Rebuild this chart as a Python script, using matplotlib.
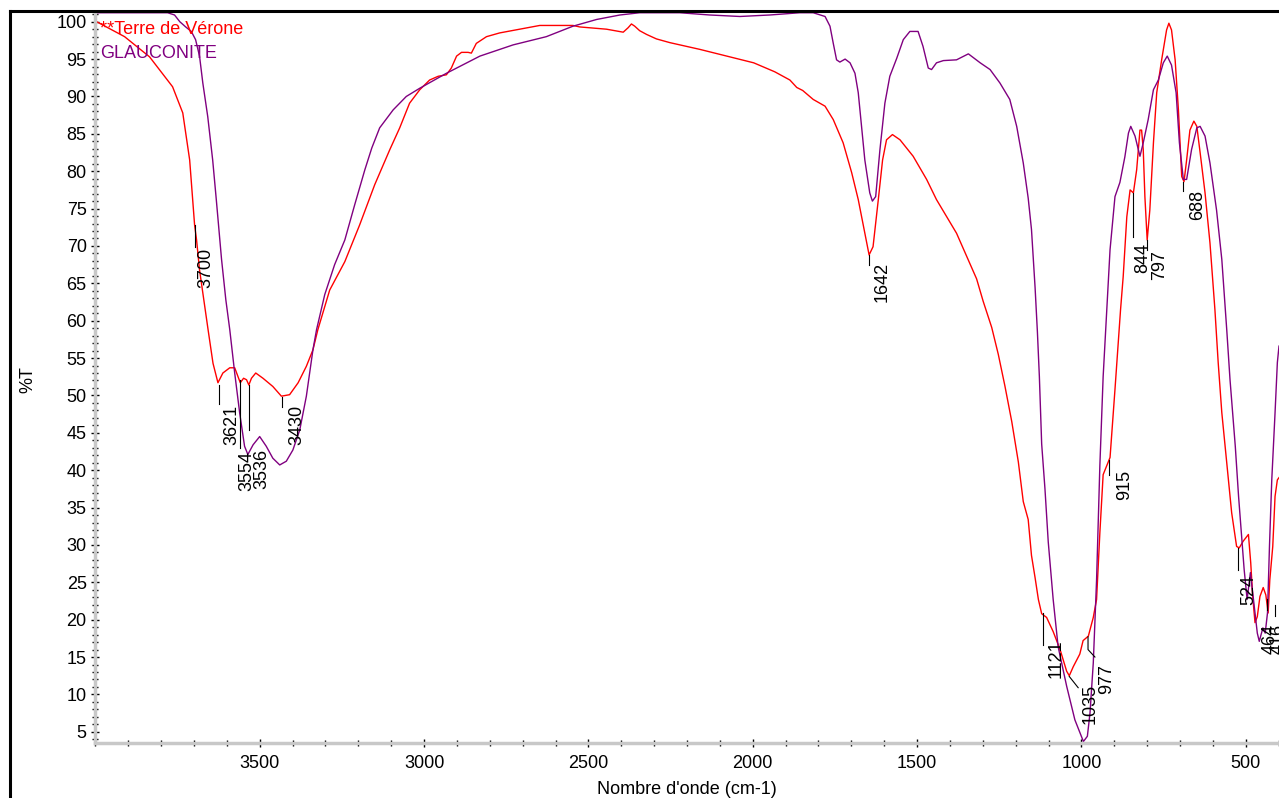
import matplotlib
matplotlib.use("Agg")
import matplotlib.pyplot as plt
from matplotlib.lines import Line2D
from matplotlib.ticker import MultipleLocator

plt.rcParams['font.family'] = ['Liberation Sans', 'DejaVu Sans']

# Terre de Verone (red) - wavenumber (cm-1) / %T
red_wn = [3996, 3911, 3835, 3765, 3734, 3713, 3704, 3698, 3692, 3683, 3670, 3657, 3642, 3627,
          3612, 3591, 3576, 3566, 3559, 3549, 3540, 3533, 3525, 3512, 3490, 3460, 3434, 3409,
          3383, 3358, 3338, 3323, 3287, 3241, 3196, 3150, 3104, 3074, 3044, 3013, 2983, 2957,
          2932, 2917, 2901, 2886, 2866, 2856, 2841, 2810, 2770, 2709, 2648, 2547, 2526, 2445,
          2394, 2379, 2369, 2359, 2344, 2323, 2293, 2252, 2222, 2161, 2070, 1997, 1933, 1887,
          1866, 1848, 1832, 1816, 1780, 1755, 1725, 1699, 1679, 1659, 1646, 1634, 1618, 1605,
          1593, 1575, 1552, 1512, 1471, 1441, 1410, 1380, 1349, 1319, 1299, 1273, 1253, 1233,
          1212, 1192, 1177, 1162, 1152, 1141, 1131, 1121, 1106, 1086, 1065, 1045, 1037, 1025,
          1005, 995, 979, 964, 954, 944, 934, 923, 913, 898, 881, 873, 862, 852, 842, 832, 822,
          817, 812, 807, 800, 792, 781, 771, 756, 741, 734, 726, 715, 705, 695, 688, 680, 670,
          658, 649, 639, 624, 609, 594, 584, 573, 558, 543, 528, 520, 508, 492, 485, 479, 472,
          465, 457, 447, 439, 432, 427, 418, 411, 404, 399]
red_t = [100.0, 98.0, 95.3, 91.3, 87.8, 81.5, 76.2, 72.8, 70.8, 66.8, 62.8, 58.8, 54.3, 51.7,
         53.0, 53.7, 53.7, 52.5, 51.7, 52.3, 52.1, 51.4, 52.3, 53.0, 52.3, 51.2, 49.9, 50.1,
         51.7, 53.9, 56.1, 58.8, 64.1, 67.9, 72.8, 78.2, 82.9, 85.8, 89.1, 90.9, 92.2, 92.7,
         92.9, 93.8, 95.4, 95.9, 95.9, 95.8, 97.1, 98.0, 98.5, 99.0, 99.5, 99.5, 99.3, 99.0,
         98.6, 99.2, 99.7, 99.4, 98.8, 98.3, 97.7, 97.2, 96.9, 96.3, 95.3, 94.5, 93.3, 92.2,
         91.2, 90.8, 90.2, 89.6, 88.7, 86.9, 83.8, 79.8, 76.2, 71.7, 68.8, 69.9, 76.2, 81.5,
         84.2, 84.9, 84.2, 82.0, 78.9, 76.2, 73.9, 71.7, 68.6, 65.6, 62.6, 59.1, 55.5, 51.3,
         46.5, 41.1, 35.8, 33.4, 28.6, 25.6, 22.7, 20.8, 20.3, 18.4, 16.0, 13.1, 12.5, 13.7,
         15.4, 17.2, 17.8, 20.3, 22.7, 31.6, 39.4, 40.6, 41.7, 50.8, 61.5, 65.9, 73.9, 77.5,
         77.1, 80.2, 85.5, 85.5, 82.9, 76.6, 70.8, 74.8, 83.8, 90.5, 94.9, 98.9, 99.8, 98.9,
         94.9, 88.2, 79.3, 78.6, 81.5, 85.5, 86.7, 86.0, 82.5, 77.1, 70.4, 61.5, 54.4, 47.7,
         41.0, 34.3, 29.8, 29.6, 30.5, 31.4, 27.6, 23.1, 19.6, 20.4, 23.1, 24.3, 23.3, 20.9,
         25.3, 29.8, 36.5, 38.7, 39.0]

# Glauconite (purple)
purple_wn = [3997, 3780, 3759, 3743, 3725, 3708, 3695, 3683, 3673, 3658, 3643, 3632, 3616, 3603,
             3591, 3576, 3561, 3546, 3536, 3520, 3500, 3480, 3460, 3439, 3419, 3399, 3378, 3358,
             3338, 3327, 3302, 3272, 3241, 3211, 3180, 3159, 3135, 3094, 3054, 3013, 2932, 2830,
             2729, 2628, 2547, 2475, 2404, 2344, 2222, 2131, 2039, 1948, 1857, 1816, 1780, 1765,
             1755, 1745, 1735, 1719, 1704, 1689, 1679, 1669, 1659, 1644, 1636, 1626, 1613, 1598,
             1583, 1562, 1542, 1522, 1497, 1482, 1466, 1456, 1441, 1420, 1380, 1344, 1308, 1278,
             1248, 1218, 1197, 1177, 1162, 1152, 1141, 1134, 1128, 1121, 1111, 1101, 1086, 1071,
             1045, 1020, 994, 982, 974, 964, 954, 944, 934, 923, 913, 898, 883, 868, 857, 850,
             837, 822, 812, 797, 781, 766, 751, 739, 726, 712, 702, 690, 680, 665, 649, 639, 624,
             609, 589, 573, 558, 548, 532, 522, 512, 505, 496, 486, 472, 465, 459, 448, 441, 434,
             428, 421, 411, 404, 399]
purple_t = [101.2, 101.2, 100.9, 100.0, 99.3, 98.7, 97.6, 95.4, 91.8, 87.3, 81.5, 76.2, 68.2, 62.8,
            58.8, 53.0, 47.7, 43.2, 42.1, 43.4, 44.5, 43.2, 41.6, 40.7, 41.2, 42.7, 45.4, 49.9,
            56.1, 58.8, 63.5, 67.5, 70.8, 75.5, 80.2, 83.1, 85.8, 88.2, 90.0, 91.1, 93.1, 95.4,
            96.9, 98.0, 99.4, 100.3, 100.9, 101.2, 101.2, 100.9, 100.7, 100.9, 101.2, 101.2, 100.7, 99.4,
            97.1, 94.9, 94.6, 95.0, 94.5, 93.1, 90.5, 86.0, 81.5, 77.1, 76.0, 76.6, 82.9, 89.1,
            92.7, 95.1, 97.6, 98.7, 98.7, 96.7, 93.8, 93.6, 94.5, 94.8, 94.9, 95.7, 94.5, 93.6,
            91.8, 89.6, 86.0, 81.1, 76.4, 72.2, 64.4, 58.5, 52.5, 43.5, 37.5, 30.4, 22.7, 16.4,
            11.1, 6.6, 3.7, 4.4, 7.5, 14.2, 25.3, 40.6, 52.5, 61.5, 69.5, 76.6, 78.5, 81.9, 85.1, 86.0,
            84.7, 82.0, 83.8, 86.9, 90.9, 92.2, 94.5, 95.4, 94.2, 90.5, 83.8, 78.9, 78.9, 82.9, 85.8,
            86.0, 84.7, 81.1, 74.8, 68.2, 58.8, 52.1, 43.2, 36.5, 30.7, 26.7, 22.7, 26.3, 20.9,
            18.2, 17.1, 18.9, 18.2, 20.9, 29.8, 38.7, 47.7, 54.4, 56.6]

peak_labels = ['3700', '3621', '3554', '3536', '3430', '1642', '1121', '1035', '977',
               '915', '844', '797', '688', '524', '464', '416']

# leader line (wn, %T points) and text anchor (wn, top %T) for each peak label
label_layout = [
    ([(3698, 72.8), (3698, 69.8)], (3664, 69.8)),
    ([(3625, 51.4), (3625, 48.8)], (3585, 48.8)),
    ([(3559, 52.1), (3559, 43.0)], (3540, 42.6)),
    ([(3533, 51.4), (3533, 45.4)], (3492, 42.8)),
    ([(3433, 49.8), (3433, 48.4)], (3387, 48.8)),
    ([(1647, 68.8), (1647, 67.5)], (1607, 67.9)),
    ([(1117, 20.9), (1117, 16.6)], (1078, 17.3)),
    ([(1037, 12.4), (1010, 10.9)], (975, 11.4)),
    ([(980, 17.7), (980, 16.0), (959, 15.0)], (922, 14.0)),
    ([(916, 41.4), (916, 39.4)], (868, 40.1)),
    ([(843, 77.1), (843, 71.2)], (813, 70.4)),
    ([(801, 70.8), (801, 69.5)], (761, 69.5)),
    ([(691, 78.6), (691, 77.3)], (648, 77.5)),
    ([(524, 29.6), (524, 26.7)], (490, 26.0)),
    ([(435, 22.7), (435, 21.3)], (427, 19.4)),
    ([(412, 22.0), (412, 20.5)], (402, 19.4)),
]

fig = plt.figure(figsize=(12.79, 7.98), dpi=100)
ax = fig.add_axes([95 / 1279, 55 / 798, 1184 / 1279, 731 / 798])

ax.plot(red_wn, red_t, color='#ff0000', lw=1.0)
ax.plot(purple_wn, purple_t, color='#800080', lw=1.0)

for text, (line_pts, (tx, ty)) in zip(peak_labels, label_layout):
    ax.plot([p[0] for p in line_pts], [p[1] for p in line_pts], color='black', lw=0.8)
    ax.text(tx, ty, text, rotation=90, ha='center', va='top', fontsize=13, color='black',
            clip_on=True)

ax.set_xlim(4001, 399)
ax.set_ylim(3.5, 101.3)

ax.set_xticks(range(500, 3501, 500))
ax.xaxis.set_minor_locator(MultipleLocator(100))
ax.set_yticks(range(5, 101, 5))
ax.yaxis.set_minor_locator(MultipleLocator(1))

for side in ['top', 'right']:
    ax.spines[side].set_visible(False)
for side in ['left', 'bottom']:
    ax.spines[side].set_color('#c8c8c8')
    ax.spines[side].set_linewidth(2.5)

ax.tick_params(which='major', direction='inout', length=6, width=1, color='black',
               labelsize=13, pad=3)
ax.tick_params(which='minor', direction='inout', length=4, width=1, color='black')
ax.tick_params(axis='x', pad=6)

ax.set_xlabel("Nombre d'onde (cm-1)", fontsize=13, labelpad=6)
fig.text(28 / 1279, 1 - 380 / 798, '%T', fontsize=13, rotation=90, ha='center', va='center')

fig.text(100 / 1279, 1 - 29 / 798, '**Terre de Vérone', color='#ff0000', fontsize=13,
         va='center', ha='left')
fig.text(100 / 1279, 1 - 54 / 798, 'GLAUCONITE', color='#800080', fontsize=13,
         va='center', ha='left')

# outer frame (left and top edges)
fig.add_artist(Line2D([10 / 1279, 10 / 1279], [0, 1 - 11 / 798], color='black', lw=2.2))
fig.add_artist(Line2D([10 / 1279, 1], [1 - 11 / 798, 1 - 11 / 798], color='black', lw=2.2))

fig.savefig('out.png', dpi=100)
